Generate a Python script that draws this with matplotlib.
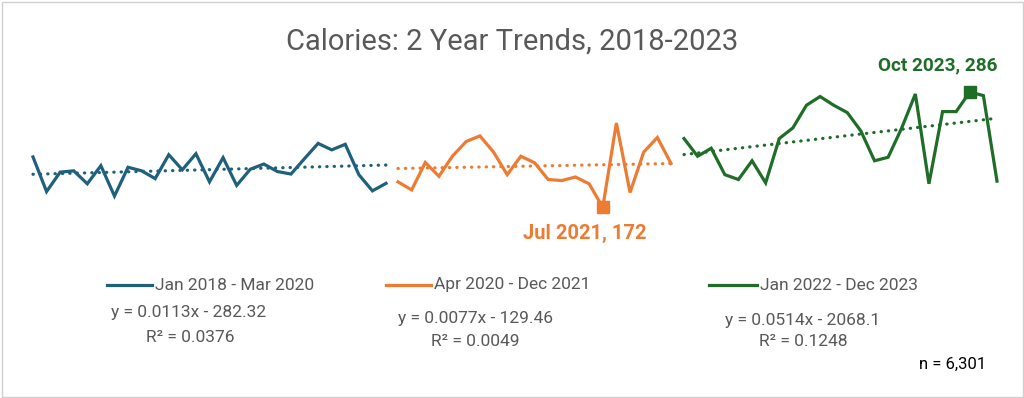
import numpy as np
from matplotlib import pyplot as plt
from matplotlib.patches import Rectangle

# monthly calories
blueVals = [221.8, 187.6, 206.8, 208.1, 195.3, 213.2, 183.2, 211.6, 208.1,
            200.4, 224.0, 209.1, 225.0, 197.2, 221.1, 193.7, 209.6, 214.8,
            207.4, 204.9, 220.2, 235.2, 228.8, 234.3, 204.3, 188.3, 195.7]
orangeVals = [197.2, 189.2, 216.3, 202.7, 222.8, 237.1, 242.6, 226.6, 204.3,
              222.5, 216.1, 199.5, 198.5, 202.0, 195.3, 172.0, 255.3, 186.7,
              226.6, 241.0, 215.4]
greenVals = [240.0, 222.5, 230.4, 204.3, 199.5, 218.0, 196.2, 240.0, 250.5,
             272.9, 281.5, 272.9, 265.6, 247.4, 218.0, 221.5, 250.5, 284.0,
             195.3, 266.6, 266.6, 286.0, 282.4, 197.9]

seriesNames = ["Jan 2018 - Mar 2020", "Apr 2020 - Dec 2021", "Jan 2022 - Dec 2023"]
equations = ["y = 0.0113x - 282.32", "y = 0.0077x - 129.46", "y = 0.0514x - 2068.1"]
rSquared = ["0.0376", "0.0049", "0.1248"]
minLabel = "Jul 2021, 172"
maxLabel = "Oct 2023, 286"
nLabel = "n = 6,301"

colors = ["#1F617D", "#EE7B32", "#1E6E28"]
gray = "#595959"
W, H = 1024, 398

plt.rcParams['font.family'] = ['Roboto', 'DejaVu Sans']

fig = plt.figure(figsize=(W / 100, H / 100), dpi=100)

# axes placement in pixels (left, right) for each period
xSpan = [(33, 386), (398, 671), (684, 997)]
yLo, yHi = 160, 300
yBot, yTop = 219.5, 77.8   # pixel rows for yLo / yHi

allVals = [blueVals, orangeVals, greenVals]
axL = []
for i, vals in enumerate(allVals):
    x0, x1 = xSpan[i]
    ax = fig.add_axes([x0 / W, 1 - yBot / H, (x1 - x0) / W, (yBot - yTop) / H])
    ax.set_axis_off()
    idx = np.arange(len(vals))
    ax.plot(idx, vals, color=colors[i], lw=2.3, solid_joinstyle='miter',
            clip_on=False)
    # linear trend, dotted
    p = np.polyfit(idx, vals, 1)
    ax.plot(idx, np.polyval(p, idx), color=colors[i], lw=2.3,
            linestyle=(0, (0.1, 2.2)), dash_capstyle='round', clip_on=False)
    ax.set_xlim(0, len(vals) - 1)
    ax.set_ylim(yLo, yHi)
    axL.append(ax)

# min / max call-outs
iMin = int(np.argmin(orangeVals))
axL[1].plot(iMin, orangeVals[iMin], 's', color=colors[1], ms=9, clip_on=False)
axL[1].annotate(minLabel, (iMin, orangeVals[iMin]), xytext=(-13, -19),
                textcoords='offset points', ha='center', va='center',
                color=colors[1], fontsize=14.5, fontweight='bold')
iMax = int(np.argmax(greenVals))
axL[2].plot(iMax, greenVals[iMax], 's', color=colors[2], ms=9, clip_on=False)
axL[2].annotate(maxLabel, (iMax, greenVals[iMax]), xytext=(-23, 19),
                textcoords='offset points', ha='center', va='center',
                color=colors[2], fontsize=13.7, fontweight='bold')

fig.text(512 / W, 1 - 42 / H, "Calories: 2 Year Trends, 2018-2023",
         ha='center', va='center', color=gray, fontsize=21)

# legend entries, equations, r squared
legX = [(107, 152), (386, 431), (709, 757)]
eqPos = [(189, 313), (475, 318), (803, 320)]
rPos = [(190, 337), (475, 341), (803, 342)]
legY = 285
for i in range(3):
    a, b = legX[i]
    fig.add_artist(plt.Line2D([a / W, b / W], [1 - legY / H, 1 - legY / H],
                              color=colors[i], lw=2.3))
    fig.text((b + 3) / W, 1 - legY / H, seriesNames[i], ha='left', va='center',
             color=gray, fontsize=12.5)
    fig.text(eqPos[i][0] / W, 1 - eqPos[i][1] / H, equations[i], ha='center',
             va='center', color=gray, fontsize=12.5)
    fig.text(rPos[i][0] / W, 1 - rPos[i][1] / H, "R² = " + rSquared[i],
             ha='center', va='center', color=gray, fontsize=12.5)

fig.text(953 / W, 1 - 364 / H, nLabel, ha='center', va='center',
         color='black', fontsize=12)

# chart border
fig.patches.append(Rectangle((1.5 / W, 1.5 / H), (W - 3) / W, (H - 3) / H,
                             transform=fig.transFigure, fill=False,
                             edgecolor='#D0D0D0', lw=1))

fig.savefig("out.png", dpi=100)
